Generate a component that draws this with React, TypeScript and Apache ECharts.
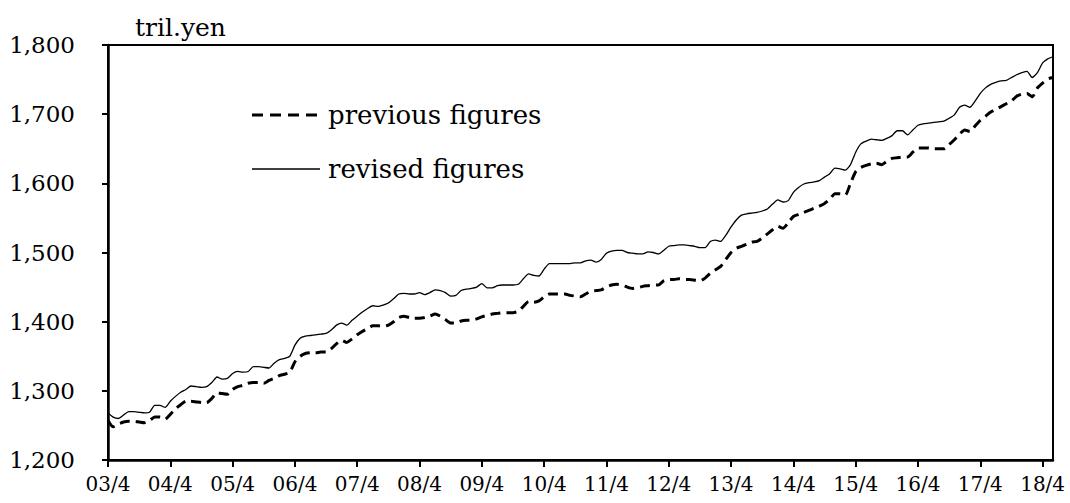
import React, { useEffect, useRef } from "react";
import * as echarts from "echarts";

// Monthly, from 2003/4 to 2018/6 (trillion yen)
const startYear = 2003;
const startMonth = 4;

const revisedFigures = [
  1268, 1262, 1260, 1265, 1270, 1270, 1269, 1268, 1269, 1279, 1279, 1276,
  1285, 1292, 1298, 1302, 1307, 1306, 1305, 1306, 1312, 1320, 1317, 1318,
  1325, 1328, 1327, 1328, 1335, 1335, 1334, 1333, 1340, 1345, 1347, 1350,
  1366, 1376, 1379, 1380, 1381, 1382, 1383, 1388, 1395, 1398, 1395, 1402,
  1408, 1414, 1419, 1423, 1422, 1424, 1427, 1433, 1440, 1441, 1440, 1440,
  1442, 1439, 1442, 1446, 1445, 1442, 1437, 1438, 1445, 1447, 1448, 1450,
  1455, 1449, 1449, 1452, 1453, 1453, 1453, 1454, 1462, 1469, 1467, 1466,
  1476, 1484, 1484, 1484, 1484, 1484, 1485, 1485, 1488, 1489, 1486, 1490,
  1499, 1502, 1503, 1503, 1500, 1499, 1498, 1498, 1501, 1500, 1498, 1503,
  1509, 1510, 1511, 1511, 1510, 1509, 1507, 1507, 1516, 1518, 1516, 1525,
  1537, 1547, 1554, 1556, 1557, 1558, 1560, 1563, 1570, 1576, 1573, 1575,
  1587, 1594, 1599, 1601, 1602, 1604, 1609, 1614, 1622, 1621, 1619, 1627,
  1645, 1657, 1661, 1664, 1663, 1662, 1665, 1669, 1676, 1676, 1670, 1677,
  1684, 1686, 1687, 1688, 1689, 1690, 1694, 1699, 1710, 1713, 1710, 1719,
  1730, 1738, 1743, 1746, 1748, 1749, 1753, 1757, 1760, 1762, 1753, 1760,
  1774, 1780, 1783,
];

const previousFigures = [
  1257, 1248, 1252, 1255, 1256, 1256, 1255, 1254, 1257, 1262, 1262, 1259,
  1266, 1274, 1280, 1285, 1285, 1284, 1283, 1283, 1289, 1297, 1296, 1295,
  1302, 1306, 1308, 1311, 1312, 1312, 1311, 1315, 1318, 1322, 1324, 1327,
  1342, 1350, 1354, 1355, 1355, 1356, 1356, 1361, 1368, 1373, 1370, 1375,
  1381, 1386, 1390, 1394, 1394, 1393, 1395, 1400, 1406, 1408, 1406, 1405,
  1405, 1406, 1408, 1411, 1408, 1403, 1398, 1398, 1401, 1402, 1402, 1404,
  1407, 1409, 1411, 1412, 1413, 1413, 1413, 1415, 1422, 1429, 1428, 1430,
  1436, 1440, 1440, 1440, 1440, 1438, 1437, 1436, 1440, 1444, 1445, 1446,
  1450, 1453, 1454, 1453, 1450, 1448, 1449, 1451, 1452, 1453, 1453, 1459,
  1461, 1461, 1462, 1461, 1461, 1460, 1459, 1463, 1470, 1475, 1480, 1490,
  1500, 1506, 1509, 1512, 1515, 1516, 1521, 1527, 1533, 1538, 1535, 1543,
  1552, 1555, 1558, 1561, 1564, 1567, 1571, 1577, 1585, 1585, 1583, 1600,
  1617, 1623, 1626, 1628, 1629, 1627, 1632, 1636, 1637, 1638, 1638, 1645,
  1651, 1651, 1651, 1650, 1650, 1650, 1656, 1663, 1671, 1677, 1675, 1683,
  1691, 1697, 1703, 1707, 1711, 1715, 1719, 1726, 1729, 1730, 1725, 1738,
  1745, 1751, 1753,
];

const categories: string[] = revisedFigures.map((_, i) => {
  const m0 = startMonth - 1 + i;
  const y = startYear + Math.floor(m0 / 12);
  const m = (m0 % 12) + 1;
  return `${String(y % 100).padStart(2, "0")}/${m}`;
});

const unitLabel = "tril.yen";
const legendPrevious = "previous figures";
const legendRevised = "revised figures";

const FONT = "DejaVu Serif";

export default function App() {
  const ref = useRef<HTMLDivElement>(null);
  useEffect(() => {
    if (!ref.current) return;
    const chart = echarts.init(ref.current, null, { renderer: "svg" });
    const showTick = (idx: number) => idx % 12 === 0;
    chart.setOption({
      animation: false,
      backgroundColor: "#fff",
      grid: {
        left: 108,
        top: 45,
        right: 17,
        bottom: 43,
        show: true,
        borderColor: "#000",
        borderWidth: 2,
      },
      xAxis: {
        type: "category",
        data: categories,
        boundaryGap: false,
        axisLine: { show: true, lineStyle: { color: "#000", width: 2.5 } },
        axisTick: {
          show: true,
          interval: (idx: number) => showTick(idx),
          length: 7,
          lineStyle: { color: "#000", width: 2 },
        },
        axisLabel: {
          interval: (idx: number) => showTick(idx),
          color: "#000",
          fontFamily: FONT,
          fontSize: 20,
          margin: 14,
        },
        splitLine: { show: false },
      },
      yAxis: {
        type: "value",
        min: 1200,
        max: 1800,
        interval: 100,
        axisLine: { show: true, lineStyle: { color: "#000", width: 2.5 } },
        axisTick: { show: true, length: 6, lineStyle: { color: "#000", width: 2 } },
        axisLabel: {
          color: "#000",
          fontFamily: FONT,
          fontSize: 23,
          margin: 33,
          formatter: (v: number) => v.toLocaleString("en-US"),
        },
        splitLine: { show: false },
      },
      series: [
        {
          name: legendPrevious,
          type: "line",
          data: previousFigures,
          symbol: "none",
          smooth: 0.2,
          lineStyle: { color: "#000", width: 3, type: [10, 6] },
        },
        {
          name: legendRevised,
          type: "line",
          data: revisedFigures,
          symbol: "none",
          smooth: 0.2,
          lineStyle: { color: "#000", width: 1.3 },
        },
      ],
      graphic: [
        {
          type: "text",
          x: 135,
          y: 27,
          style: {
            text: unitLabel,
            font: `25px "${FONT}"`,
            fill: "#000",
            textVerticalAlign: "middle",
          },
        },
        {
          type: "line",
          shape: { x1: 252, y1: 115, x2: 318, y2: 115 },
          style: { stroke: "#000", lineWidth: 3, lineDash: [11, 7] },
        },
        {
          type: "text",
          x: 328,
          y: 115,
          style: {
            text: legendPrevious,
            font: `26px "${FONT}"`,
            fill: "#000",
            textVerticalAlign: "middle",
          },
        },
        {
          type: "line",
          shape: { x1: 252, y1: 169, x2: 320, y2: 169 },
          style: { stroke: "#000", lineWidth: 1.3 },
        },
        {
          type: "text",
          x: 328,
          y: 169,
          style: {
            text: legendRevised,
            font: `26px "${FONT}"`,
            fill: "#000",
            textVerticalAlign: "middle",
          },
        },
      ],
    });
    return () => chart.dispose();
  }, []);
  return (
    <div
      ref={ref}
      style={{ position: "absolute", left: 0, top: 0, width: 1070, height: 503 }}
    />
  );
}
